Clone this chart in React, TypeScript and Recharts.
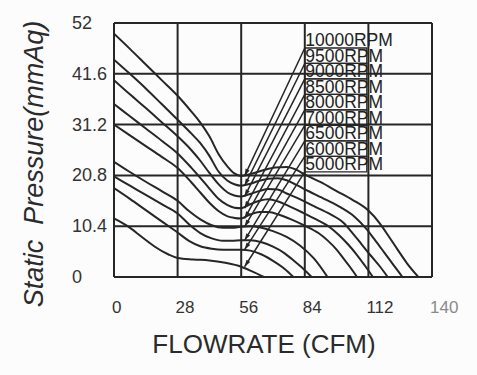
import React from "react";
import {
  LineChart,
  Line,
  XAxis,
  YAxis,
  CartesianGrid,
  ReferenceLine,
  ReferenceArea,
  ReferenceDot,
  Label,
} from "recharts";

const xTicks = [0, 28, 56, 84, 112, 140];
const yTicks = [0, 10.4, 20.8, 31.2, 41.6, 52];

// fan curves: flow (CFM) / static pressure (mmAq)
const flow10000 = [0, 7, 14, 21, 28, 34, 38, 42, 46, 50, 53, 56, 61, 66, 71, 76, 80, 84, 91, 98, 105, 112, 117, 121, 125, 129, 134];
const pres10000 = [49.8, 46.7, 43.5, 40.3, 37.1, 33.9, 31.6, 28.8, 25.2, 22.6, 21.2, 20.7, 21.2, 21.9, 22.4, 22.5, 22.0, 21.0, 19.4, 17.6, 15.8, 13.6, 11.0, 8.3, 5.5, 2.8, 0];

const flow9500 = [0, 7, 14, 21, 28, 34, 38, 42, 46, 50, 53, 56, 60, 64, 68, 72, 76, 80, 86, 93, 100, 106, 111, 115, 119, 123, 127];
const pres9500 = [44.5, 41.6, 38.6, 35.4, 32.2, 29.4, 27.4, 24.8, 21.6, 19.7, 19.0, 18.7, 19.1, 19.7, 20.1, 20.2, 19.8, 18.9, 17.5, 15.9, 14.2, 12.3, 9.9, 7.5, 5.0, 2.5, 0];

const flow9000 = [0, 7, 14, 21, 28, 34, 38, 42, 46, 50, 53, 56, 60, 64, 68, 72, 76, 82, 88, 95, 101, 105, 109, 113, 117, 120.5];
const pres9000 = [40.3, 37.4, 34.6, 31.7, 28.8, 26.0, 23.8, 21.3, 19.0, 17.3, 16.7, 16.5, 17.0, 17.6, 18.0, 17.9, 17.1, 15.9, 14.5, 12.9, 11.1, 9.0, 6.7, 4.4, 2.2, 0];

const flow8500 = [0, 7, 14, 21, 28, 34, 38, 42, 46, 50, 53, 56, 60, 64, 68, 72, 77, 83, 89, 95, 99, 103, 107, 110.5, 114];
const pres8500 = [35.4, 32.9, 30.4, 27.9, 25.3, 22.4, 20.3, 18.1, 16.0, 14.7, 14.2, 14.1, 14.9, 15.6, 15.9, 15.5, 14.5, 13.2, 11.8, 10.2, 8.6, 6.7, 4.5, 2.3, 0];

const flow8000 = [0, 7, 14, 21, 28, 34, 38, 42, 46, 50, 53, 56, 60, 64, 68, 73, 78, 84, 90, 94, 98, 101, 104, 107];
const pres8000 = [31.2, 29.0, 26.8, 24.6, 22.3, 19.4, 17.3, 15.2, 13.5, 12.4, 12.1, 12.0, 12.8, 13.3, 13.3, 12.7, 11.8, 10.5, 9.0, 7.5, 5.6, 3.8, 2.0, 0];

const flow7000 = [0, 7, 14, 21, 28, 33, 38, 43, 48, 52, 56, 60, 64, 70, 76, 82, 88, 94];
const pres7000 = [23.6, 21.5, 19.5, 17.6, 15.6, 13.5, 11.8, 10.6, 10.1, 10.1, 10.3, 10.4, 10.2, 9.4, 8.2, 6.4, 3.8, 0];

const flow6500 = [0, 7, 14, 21, 28, 33, 38, 43, 48, 52, 56, 60, 65, 70, 75, 80, 84, 87];
const pres6500 = [20.6, 18.7, 16.8, 14.9, 13.0, 10.8, 9.0, 7.9, 7.4, 7.4, 7.5, 7.5, 7.1, 6.2, 4.9, 3.0, 1.4, 0];

const flow6000 = [0, 7, 14, 21, 28, 33, 38, 43, 48, 52, 56, 60, 65, 70, 75, 79];
const pres6000 = [18.2, 16.0, 13.7, 11.4, 9.1, 7.4, 6.3, 5.8, 5.6, 5.6, 5.6, 5.4, 4.6, 3.3, 1.7, 0];

const flow5000 = [0, 6, 12, 18, 24, 28, 35, 42, 49, 56, 61, 66];
const pres5000 = [12.0, 10.4, 8.3, 6.2, 4.6, 3.9, 3.6, 3.4, 2.9, 2.1, 1.1, 0];

const rpmNames = ["10000RPM", "9500RPM", "9000RPM", "8500RPM", "8000RPM", "7000RPM", "6500RPM", "6000RPM", "5000RPM"];

const curves = [
  { flow: flow10000, pres: pres10000 },
  { flow: flow9500, pres: pres9500 },
  { flow: flow9000, pres: pres9000 },
  { flow: flow8500, pres: pres8500 },
  { flow: flow8000, pres: pres8000 },
  { flow: flow7000, pres: pres7000 },
  { flow: flow6500, pres: pres6500 },
  { flow: flow6000, pres: pres6000 },
  { flow: flow5000, pres: pres5000 },
].map((c, i) => ({
  name: rpmNames[i],
  data: c.flow.map((x, j) => ({ x, y: c.pres[j] })),
  at56: c.pres[c.flow.indexOf(56)],
}));

// label table sits on the 84 CFM line, one row per speed
const ROW = 3.173;
const rowTop = (i: number) => 50.06 - ROW * i;
const rowBottom = (i: number) => 46.89 - ROW * i;
const rowMid = (i: number) => 48.45 - ROW * i;

const INK = "#262626";
const FONT = "'Liberation Sans', Arial, sans-serif";

function Leader(props: any) {
  const { x1, y1, x2, y2 } = props;
  const dx = x2 - x1;
  const dy = y2 - y1;
  const len = Math.sqrt(dx * dx + dy * dy) || 1;
  const ux = dx / len;
  const uy = dy / len;
  const L = 7;
  const W = 2.2;
  const bx = x2 - ux * L;
  const by = y2 - uy * L;
  return (
    <g>
      <line x1={x1} y1={y1} x2={x2} y2={y2} stroke={INK} strokeWidth={1.5} />
      <polygon
        points={`${x2},${y2} ${bx - uy * W},${by + ux * W} ${bx + uy * W},${by - ux * W}`}
        fill={INK}
      />
    </g>
  );
}

function XTick(props: any) {
  const { x, y, payload } = props;
  return (
    <text
      x={x - 2}
      y={y + 30}
      textAnchor="start"
      dominantBaseline="central"
      fontFamily={FONT}
      fontSize={17}
      fill={payload.value === 140 ? "#8a8a8a" : "#333"}
    >
      {payload.value}
    </text>
  );
}

function YTick(props: any) {
  const { x, y, payload } = props;
  return (
    <text
      x={x - 42}
      y={y}
      textAnchor="start"
      dominantBaseline="central"
      fontFamily={FONT}
      fontSize={18}
      fill="#333"
    >
      {payload.value}
    </text>
  );
}

export default function App() {
  return (
    <div style={{ position: "absolute", left: 0, top: 0, width: 477, height: 375, background: "#fcfcfc" }}>
      <LineChart
        width={477}
        height={375}
        margin={{ top: 23, right: 45, bottom: 58, left: 54 }}
      >
        <CartesianGrid stroke={INK} strokeWidth={2} strokeDasharray="" />
        <XAxis
          dataKey="x"
          type="number"
          domain={[0, 140]}
          ticks={xTicks}
          height={40}
          tickLine={false}
          tickSize={0}
          tickMargin={0}
          axisLine={{ stroke: INK, strokeWidth: 2 }}
          tick={<XTick />}
          allowDataOverflow
        >
          <Label
            content={(p: any) => {
              const vb = p.viewBox;
              return (
                <text
                  x={vb.x + vb.width / 2 - 9}
                  y={vb.y + 76}
                  textAnchor="middle"
                  fontFamily={FONT}
                  fontSize={26}
                  fill="#2b2b2b"
                >
                  FLOWRATE (CFM)
                </text>
              );
            }}
          />
        </XAxis>
        <YAxis
          type="number"
          domain={[0, 52]}
          ticks={yTicks}
          width={60}
          tickLine={false}
          tickSize={0}
          tickMargin={0}
          axisLine={{ stroke: INK, strokeWidth: 2 }}
          tick={<YTick />}
          allowDataOverflow
        >
          <Label
            content={(p: any) => {
              const vb = p.viewBox;
              const cx = vb.x - 11;
              const cy = vb.y + 141;
              return (
                <text
                  x={cx}
                  y={cy}
                  transform={`rotate(-90, ${cx}, ${cy})`}
                  textAnchor="middle"
                  fontFamily={FONT}
                  fontStyle="italic"
                  fontSize={27}
                  fill="#2b2b2b"
                >
                  <tspan>Static</tspan>
                  <tspan dx={15}>Pressure(mmAq)</tspan>
                </text>
              );
            }}
          />
        </YAxis>
        <ReferenceLine y={52} stroke={INK} strokeWidth={2} />
        <ReferenceLine x={140} stroke={INK} strokeWidth={2} />

        {curves.slice(1).map((c, k) => (
          <ReferenceArea
            key={"box" + c.name}
            x1={84}
            x2={111.3}
            y1={rowBottom(k + 1)}
            y2={rowTop(k + 1)}
            stroke={INK}
            strokeWidth={1.3}
            fill="none"
            fillOpacity={0}
          />
        ))}

        {curves.map((c) => (
          <Line
            key={c.name}
            data={c.data}
            dataKey="y"
            type="monotone"
            stroke={INK}
            strokeWidth={2}
            dot={false}
            activeDot={false}
            isAnimationActive={false}
          />
        ))}

        {curves.map((c, i) => (
          <ReferenceLine
            key={"lead" + c.name}
            segment={[
              { x: 84, y: rowBottom(i) },
              { x: 57.5, y: c.at56 },
            ]}
            shape={<Leader />}
          />
        ))}

        {curves.map((c, i) => (
          <ReferenceDot
            key={"lab" + c.name}
            x={84}
            y={rowMid(i)}
            r={0}
            shape={(p: any) => (
              <text
                x={p.cx + 0.5}
                y={p.cy}
                dominantBaseline="central"
                fontFamily={FONT}
                fontSize={17.5}
                fill="#222"
              >
                {c.name}
              </text>
            )}
          />
        ))}
      </LineChart>
    </div>
  );
}
